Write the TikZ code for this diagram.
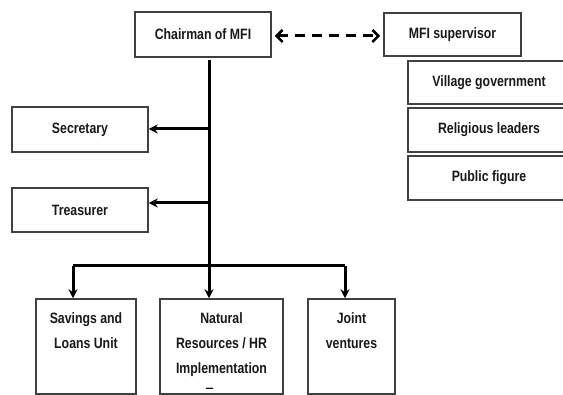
\documentclass[tikz,border=0pt]{standalone}
\usepackage{fontspec}
\setmainfont[FakeStretch=0.82]{Liberation Sans}
\usetikzlibrary{arrows.meta}
\begin{document}
\begin{tikzpicture}[x=1pt,y=-1pt,
  box/.style={draw=black!75, line width=1.5pt, fill=white, inner sep=0pt,
    font=\bfseries\fontsize{15}{25}\selectfont, align=center, text=black!90},
  lbl/.style={inner sep=0pt, anchor=north, align=center,
    font=\bfseries\fontsize{15}{25}\selectfont, text=black!90},
  conn/.style={line width=3pt, -{Stealth[length=9pt,width=9pt]}},
  trunk/.style={line width=3pt},
  dashconn/.style={line width=3pt, dash pattern=on 10pt off 7pt,
    {Straight Barb[length=6pt,width=12pt,line width=2.5pt]}-{Straight Barb[length=6pt,width=12pt,line width=2.5pt]}}]
\clip (0,0) rectangle (563,395);
% top boxes
\node[box, minimum width=136pt, minimum height=45pt] (chair) at (203,34.5) {Chairman of MFI};
\node[box, minimum width=137pt, minimum height=43pt] (sup) at (452.5,34.5) {MFI supervisor};
\node[box, minimum width=162pt, minimum height=43pt] (vil) at (489,82.5) {Village government};
\node[box, minimum width=162pt, minimum height=44pt] (rel) at (489,130) {Religious leaders};
\node[box, minimum width=162pt, minimum height=44pt] (pub) at (489,178) {Public figure};
% side boxes
\node[box, minimum width=136pt, minimum height=45pt] (sec) at (80,129.5) {Secretary};
\node[box, minimum width=136pt, minimum height=44pt] (tre) at (80,210) {Treasurer};
% bottom boxes
\node[box, minimum width=100pt, minimum height=95pt] (sav) at (86,346.5) {};
\node[box, minimum width=123pt, minimum height=95pt] (nat) at (221.5,346.5) {};
\node[box, minimum width=87pt, minimum height=95pt] (joi) at (351.5,346.5) {};
\node[lbl] (savt) at (86,312) {Savings and\\Loans Unit};
\begin{scope}
\clip (160,299) rectangle (283,389);
\node[lbl] (natt) at (221.5,312) {Natural\\Resources / HR\\Implementation\\Team};
\end{scope}
\node[lbl] (joit) at (351.5,312) {Joint\\ventures};
% connectors
\coordinate (tTop) at (209,60);
\coordinate (tSec) at (209,129);
\coordinate (tTre) at (209,203);
\coordinate (tBot) at (209,266);
\coordinate (bL) at (73,266);
\coordinate (bR) at (345,266);
\path (chair.east) ++(3pt,-1.5pt) coordinate (dA) (sup.west) ++(-3pt,-1.5pt) coordinate (dB);
\draw[dashconn] (dA) -- (dB);
\draw[trunk] (tTop) -- (tBot);
\draw[conn] (tSec) -- (sec.east |- tSec);
\draw[conn] (tTre) -- (tre.east |- tTre);
\draw[trunk, line join=miter] (bL) -- (bR);
\draw[conn] (bL) -- (sav.north -| bL);
\draw[conn] (tBot) -- (nat.north -| tBot);
\draw[conn] (bR) -- (joi.north -| bR);
\end{tikzpicture}
\end{document}
